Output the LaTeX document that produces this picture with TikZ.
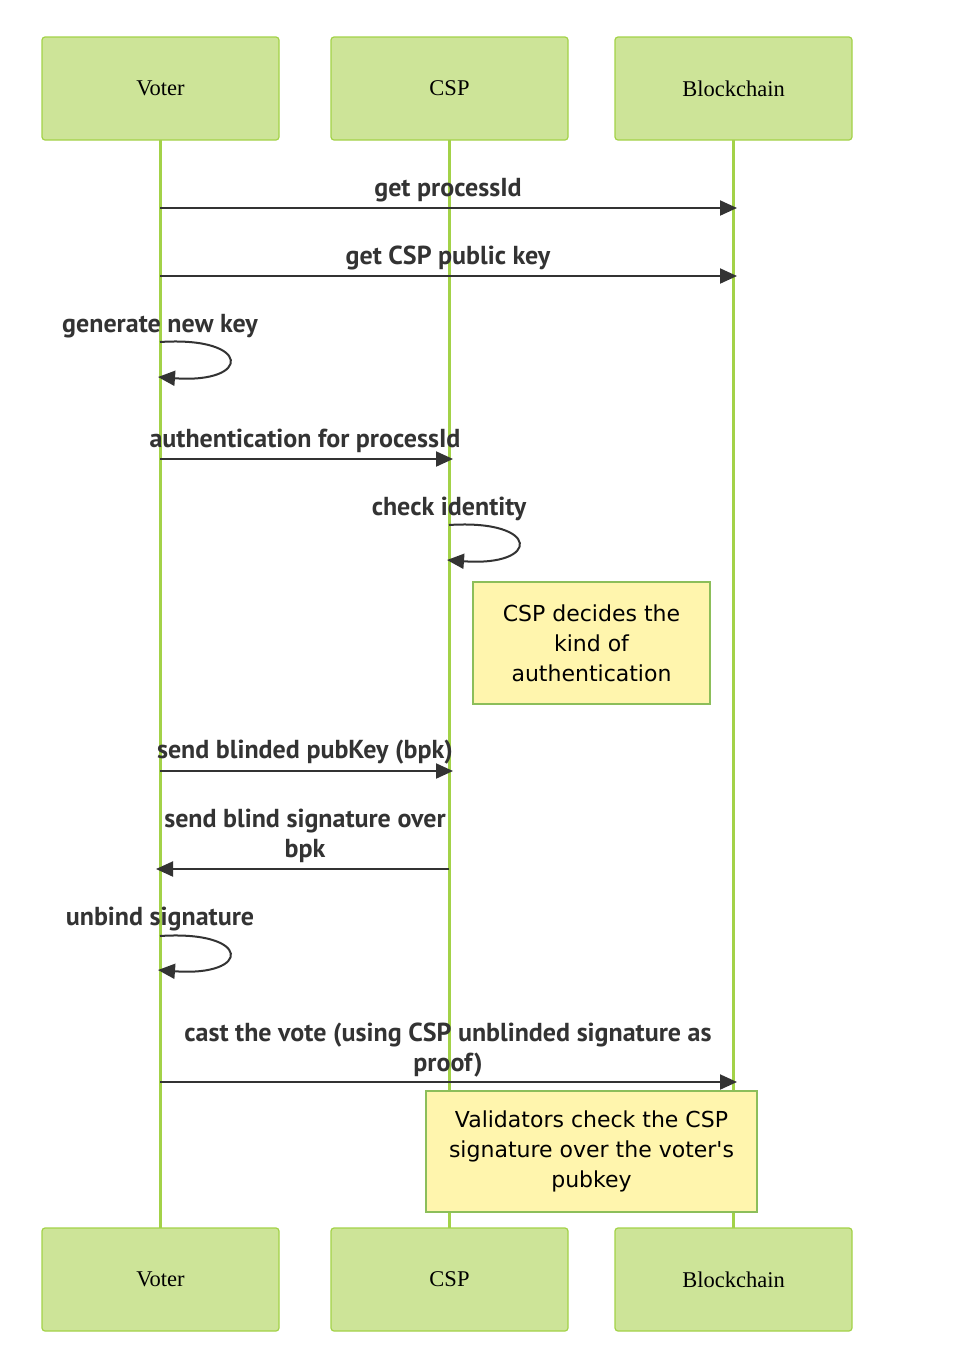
\documentclass[tikz,border=0pt]{standalone}
\usepackage{fontspec}
\setmainfont{Liberation Serif}
\newfontfamily\msgfont{PT Sans}
\newfontfamily\notefont{DejaVu Sans}
\usetikzlibrary{arrows.meta}
\definecolor{actfill}{RGB}{205,228,152}
\definecolor{actline}{RGB}{163,210,72}
\definecolor{notefill}{RGB}{255,245,173}
\definecolor{noteline}{RGB}{140,190,90}
\definecolor{msgcol}{RGB}{51,51,51}
\tikzset{
  actor/.style={draw=actline, fill=actfill, line width=1.2pt, rounded corners=3pt,
    minimum width=237pt, minimum height=103pt, inner sep=0pt, font=\fontsize{22.5}{26}\selectfont},
  lifeline/.style={draw=actline, line width=3pt},
  msg/.style={draw=msgcol, line width=2pt, -{Triangle[length=17pt,width=15pt]}},
  msglabel/.style={text=msgcol, font=\msgfont\bfseries\fontsize{26}{30}\selectfont, align=center, inner sep=0pt},
  note/.style={draw=noteline, fill=notefill, line width=1.2pt, inner sep=0pt, align=center,
    font=\notefont\fontsize{22}{30}\selectfont},
}
\begin{document}
\begin{tikzpicture}[x=1pt,y=-1pt]
\useasboundingbox (0,0) rectangle (960,1369);
% lifelines
\coordinate (vt) at (160,140); \coordinate (vb) at (160,1228);
\coordinate (ct) at (449,140); \coordinate (cb) at (449,1228);
\coordinate (bt) at (733,140); \coordinate (bb) at (733,1228);
\draw[lifeline] (vt) -- (vb);
\draw[lifeline] (ct) -- (cb);
\draw[lifeline] (bt) -- (bb);
% actors
\node[actor] (v1) at (160.5,88.5) {\raisebox{-1.5pt}{Voter}};
\node[actor] (c1) at (449.5,88.5) {\raisebox{-1.5pt}{CSP}};
\node[actor] (b1) at (733.5,88.5) {\raisebox{-1.5pt}{Blockchain}};
\node[actor] (v2) at (160.5,1279.5) {\raisebox{-1.5pt}{Voter}};
\node[actor] (c2) at (449.5,1279.5) {\raisebox{-1.5pt}{CSP}};
\node[actor] (b2) at (733.5,1279.5) {\raisebox{-1.5pt}{Blockchain}};
% messages
\coordinate (m1s) at (160,208); \coordinate (m1e) at (737,208);
\draw[msg] (m1s) -- (m1e);
\node[msglabel] (l1) at (448,190) {get processId};

\coordinate (m2s) at (160,276); \coordinate (m2e) at (737,276);
\draw[msg] (m2s) -- (m2e);
\node[msglabel] (l2) at (448,258) {get CSP public key};

\coordinate (s1a) at (160,342); \coordinate (s1b) at (158,377);
\draw[msg] (s1a) .. controls (252,336) and (252,384) .. (s1b);
\node[msglabel] (l3) at (160,326) {generate new key};

\coordinate (m4s) at (160,459); \coordinate (m4e) at (453,459);
\draw[msg] (m4s) -- (m4e);
\node[msglabel] (l4) at (305,441) {authentication for processId};

\coordinate (s2a) at (449,525); \coordinate (s2b) at (447,560);
\draw[msg] (s2a) .. controls (541,519) and (541,567) .. (s2b);
\node[msglabel] (l5) at (449,509) {check identity};

\node[note, minimum width=237pt, minimum height=122pt] (n1) at (591.5,643) {CSP decides the\\kind of\\authentication};

\coordinate (m7s) at (160,771); \coordinate (m7e) at (453,771);
\draw[msg] (m7s) -- (m7e);
\node[msglabel] (l7) at (305,752) {send blinded pubKey (bpk)};

\coordinate (m8s) at (449,869); \coordinate (m8e) at (156,869);
\draw[msg] (m8s) -- (m8e);
\node[msglabel] (l8) at (305,836) {send blind signature over\\bpk};

\coordinate (s3a) at (160,936); \coordinate (s3b) at (158,970);
\draw[msg] (s3a) .. controls (252,930) and (252,977) .. (s3b);
\node[msglabel] (l9) at (160,919) {unbind signature};

\coordinate (m10s) at (160,1082); \coordinate (m10e) at (737,1082);
\draw[msg] (m10s) -- (m10e);
\node[msglabel] (l10) at (448,1050) {cast the vote (using CSP unblinded signature as\\proof)};

\node[note, minimum width=331pt, minimum height=121pt] (n2) at (591.5,1151.5) {Validators check the CSP\\signature over the voter's\\pubkey};
\end{tikzpicture}
\end{document}
